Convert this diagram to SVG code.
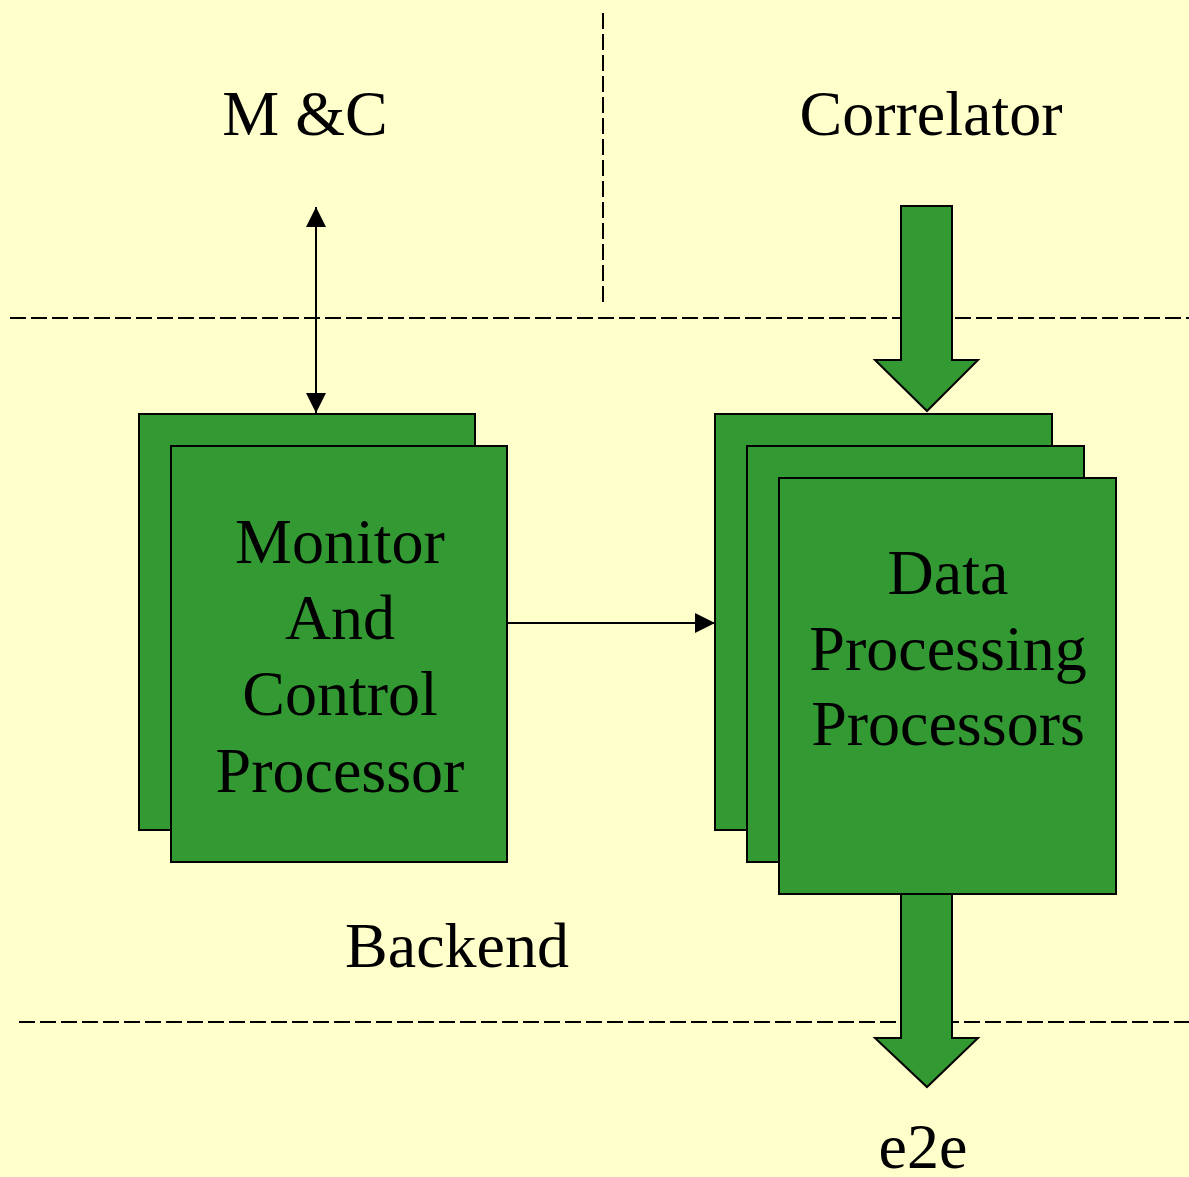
<svg xmlns="http://www.w3.org/2000/svg" width="1189" height="1177" viewBox="0 0 1189 1177">
  <style>
    .lbl { font-family: "Liberation Serif", "Times New Roman", serif; font-size: 64px; fill: #000; text-anchor: middle; }
    .box { fill: #339933; stroke: #000; stroke-width: 2; }
    .dash { stroke: #000; stroke-width: 2; stroke-dasharray: 16 5; fill: none; }
    .wire { stroke: #000; stroke-width: 2; fill: none; }
    .fat { fill: #339933; stroke: #000; stroke-width: 2; stroke-linejoin: miter; }
  </style>
  <defs>
    <marker id="tip" viewBox="0 0 20 20" refX="20" refY="10" markerWidth="20" markerHeight="20" markerUnits="userSpaceOnUse" orient="auto-start-reverse">
      <path d="M0,0 L20,10 L0,20 Z" fill="#000"/>
    </marker>
  </defs>

  <rect width="1189" height="1177" fill="#FFFFCC"/>

  <!-- region separators -->
  <g id="separators">
    <line class="dash" x1="10" y1="318" x2="1189" y2="318"/>
    <line class="dash" x1="19" y1="1022" x2="1189" y2="1022"/>
    <line class="dash" x1="603" y1="13" x2="603" y2="302"/>
  </g>

  <!-- region titles -->
  <g id="titles">
    <text class="lbl" x="305" y="135">M &amp;C</text>
    <text class="lbl" x="931" y="135">Correlator</text>
    <text class="lbl" x="457" y="967">Backend</text>
    <text class="lbl" x="923" y="1168">e2e</text>
  </g>

  <!-- monitor and control processor stack -->
  <g id="mc-processor">
    <rect class="box" x="139" y="414" width="336" height="416"/>
    <rect class="box" x="171" y="446" width="336" height="416"/>
    <text class="lbl" x="340" y="563">Monitor</text>
    <text class="lbl" x="340" y="639">And</text>
    <text class="lbl" x="340" y="715">Control</text>
    <text class="lbl" x="340" y="792">Processor</text>
  </g>

  <!-- data processing processor stack -->
  <g id="dp-processors">
    <rect class="box" x="715" y="414" width="337" height="416"/>
    <rect class="box" x="747" y="446" width="337" height="416"/>
    <rect class="box" x="779" y="478" width="337" height="416"/>
    <text class="lbl" x="948" y="594">Data</text>
    <text class="lbl" x="948" y="670">Processing</text>
    <text class="lbl" x="948" y="745">Processors</text>
  </g>

  <!-- connectors -->
  <g id="connectors">
    <line class="wire" x1="316" y1="207" x2="316" y2="413" marker-start="url(#tip)" marker-end="url(#tip)"/>
    <line class="wire" x1="508" y1="623" x2="715" y2="623" marker-end="url(#tip)"/>
    <path class="fat" d="M901,206 L952,206 L952,360 L978,360 L927,411 L875,360 L901,360 Z"/>
    <path class="fat" d="M901,894 L952,894 L952,1038 L978,1038 L927,1087 L875,1038 L901,1038 Z"/>
  </g>
</svg>
